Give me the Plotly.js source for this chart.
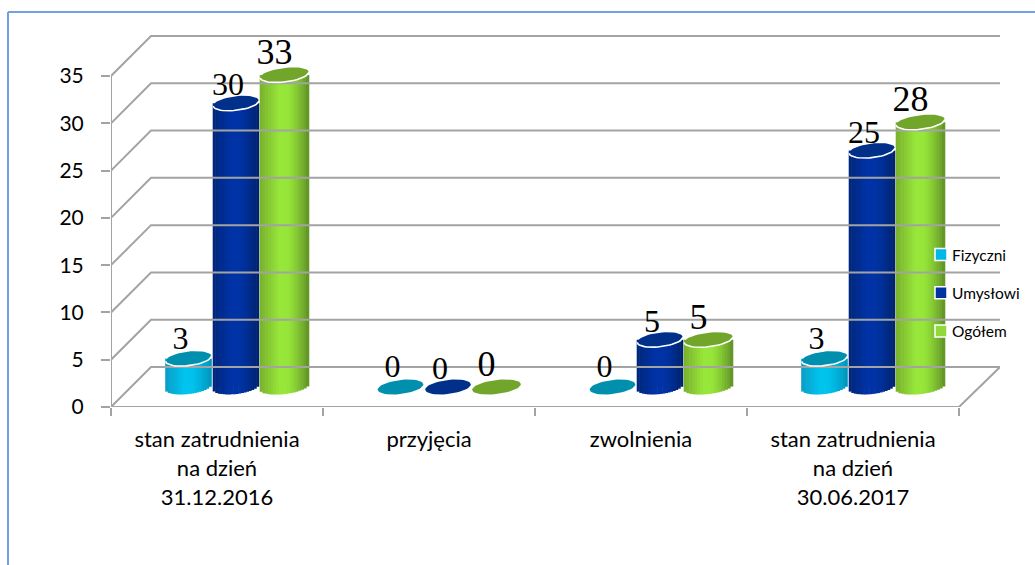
<!DOCTYPE html>
<html>
<head>
<meta charset="utf-8">
<script src="https://cdn.plot.ly/plotly-3.0.1.min.js"></script>
<style>html,body{margin:0;padding:0;background:#fff}#c{width:1035px;height:565px}</style>
</head>
<body>
<div id="c"></div>
<script>
const categoryLines = [
  ["stan zatrudnienia", "na dzień", "31.12.2016"],
  ["przyjęcia"],
  ["zwolnienia"],
  ["stan zatrudnienia", "na dzień", "30.06.2017"]
];
const seriesNames = ["Fizyczni", "Umysłowi", "Ogółem"];
const fizyczni = [3, 0, 0, 3];
const umyslowi = [30, 0, 5, 25];
const ogolem = [33, 0, 5, 28];
const valueTicks = [0, 5, 10, 15, 20, 25, 30, 35];

const bodyLeft = ["#0a9cc4", "#00267a", "#78b02c"];
const bodyMid = ["#00c3ee", "#0033a6", "#97e63a"];
const bodyRight = ["#0093b8", "#00226c", "#5f8f26"];
const topColor = ["#0090ae", "#00308a", "#72a62b"];
const swatchColor = ["#00b8e6", "#0033a0", "#92d83a"];
const labelSize = [32, 32, 36];
const labelRise = [18, 16, 20];
const labelShift = [-8, -8, -10];
const barOffset = [77.5, 125, 173.5];
const barHalf = [23, 23, 24.5];

const GREY = "#a3a3a3";
const ML = 111, MT = 30, PLOT_BOTTOM = 407, RIGHT = 1000;
const PX_X = 212, PX_Y = 9.457;
const plotW = RIGHT - ML, plotH = PLOT_BOTTOM - MT;
const xMax = plotW / PX_X, yMax = plotH / PX_Y;
const DEPTH = 40, LIFT = 20 / PX_Y;
const THETA = 7 * Math.PI / 180, MINOR = 7;
const allSeries = [fizyczni, umyslowi, ogolem];

function ellipsePoint(a, t) {
  return [a * Math.cos(t) * Math.cos(THETA) - MINOR * Math.sin(t) * Math.sin(THETA),
          a * Math.cos(t) * Math.sin(THETA) + MINOR * Math.sin(t) * Math.cos(THETA)];
}
function lowerAt(a, dx) {
  let best = 0, bestD = 1e9;
  for (let i = 0; i < 720; i++) {
    const p = ellipsePoint(a, Math.PI + i / 720 * Math.PI);
    const d = Math.abs(p[0] - dx);
    if (d < bestD) { bestD = d; best = p[1]; }
  }
  return best;
}
function hex(c) { return [1, 3, 5].map(i => parseInt(c.substr(i, 2), 16)); }
function mix(a, b, f) {
  const A = hex(a), B = hex(b);
  return "rgb(" + A.map((v, i) => Math.round(v + (B[i] - v) * f)).join(",") + ")";
}

const traces = [];
const STRIPS = 18;

// body base + legend
allSeries.forEach((vals, s) => {
  traces.push({
    type: "bar", name: seriesNames[s], legendgroup: seriesNames[s],
    x: vals.map((v, g) => g + barOffset[s] / PX_X),
    y: vals,
    base: vals.map(() => LIFT),
    width: barHalf[s] * 1.2 / PX_X,
    marker: { color: swatchColor[s], line: { width: 1.5, color: "#ffffff" } },
    hoverinfo: "skip"
  });
});

// cylinder shading strips
allSeries.forEach((vals, s) => {
  const xs = [], ys = [], bs = [], cs = [], ws = [];
  vals.forEach((v, g) => {
    if (v <= 0) return;
    for (let k = 0; k < STRIPS; k++) {
      const f = (k + 0.5) / STRIPS;
      const dx = (f * 2 - 1) * barHalf[s];
      const low = lowerAt(barHalf[s], dx);
      xs.push(g + (barOffset[s] + dx) / PX_X);
      bs.push(LIFT + low / PX_Y);
      ys.push(v - low / PX_Y);
      ws.push((2 * barHalf[s] / STRIPS + 0.6) / PX_X);
      cs.push(f < 0.55 ? mix(bodyLeft[s], bodyMid[s], Math.min(1, f / 0.4))
                       : mix(bodyMid[s], bodyRight[s], Math.pow((f - 0.55) / 0.45, 1.4)));
    }
  });
  traces.push({
    type: "bar", x: xs, y: ys, base: bs, width: ws, showlegend: false,
    legendgroup: seriesNames[s], marker: { color: cs, line: { width: 0 } }, hoverinfo: "skip"
  });
});

// floor / walls
const gx = [], gy = [];
valueTicks.forEach(v => {
  const bx = DEPTH / PX_X, by = v + DEPTH / PX_Y;
  gx.push(0, bx, xMax, null); gy.push(v, by, by, null);
});
gx.push(0, 0, null, 0, categoryLines.length, xMax, null);
gy.push(0, valueTicks[valueTicks.length - 1], null, 0, 0, DEPTH / PX_Y, null);
traces.unshift({
  type: "scatter", mode: "lines", x: gx, y: gy, showlegend: false, hoverinfo: "skip",
  line: { color: GREY, width: 2 }, cliponaxis: false, connectgaps: false
});

// cylinder tops, rims, labels
allSeries.forEach((vals, s) => {
  const ex = [], ey = [], rx = [], ry = [];
  vals.forEach((v, g) => {
    const cx = g + barOffset[s] / PX_X, cy = LIFT + v;
    for (let i = 0; i <= 48; i++) {
      const p = ellipsePoint(barHalf[s], i / 48 * 2 * Math.PI);
      ex.push(cx + p[0] / PX_X); ey.push(cy + p[1] / PX_Y);
    }
    ex.push(null); ey.push(null);
    if (v > 0) {
      for (let i = 0; i <= 24; i++) {
        const p = ellipsePoint(barHalf[s], Math.PI + i / 24 * Math.PI);
        rx.push(cx + p[0] / PX_X); ry.push(cy + p[1] / PX_Y);
      }
      rx.push(null); ry.push(null);
    }
  });
  traces.push({
    type: "scatter", mode: "lines", x: ex, y: ey, fill: "toself", fillcolor: topColor[s],
    line: { width: 0, color: topColor[s] }, showlegend: false, hoverinfo: "skip", cliponaxis: false
  });
  traces.push({
    type: "scatter", mode: "lines", x: rx, y: ry, line: { color: "#ffffff", width: 1.6 },
    showlegend: false, hoverinfo: "skip", cliponaxis: false
  });
});
allSeries.forEach((vals, s) => {
  traces.push({
    type: "scatter", mode: "text",
    x: vals.map((v, g) => g + (barOffset[s] + labelShift[s]) / PX_X),
    y: vals.map(v => LIFT + v + labelRise[s] / PX_Y),
    text: vals.map(String), textposition: "middle center",
    textfont: { family: "'Liberation Serif', serif", size: labelSize[s], color: "#000" },
    showlegend: false, hoverinfo: "skip", cliponaxis: false
  });
});

const layout = {
  width: 1035, height: 565,
  margin: { l: ML, r: 1035 - RIGHT, t: MT, b: 565 - PLOT_BOTTOM, pad: 0, autoexpand: false },
  paper_bgcolor: "#fff", plot_bgcolor: "rgba(0,0,0,0)",
  barmode: "overlay", showlegend: true,
  font: { family: "Lato, sans-serif", color: "#000" },
  xaxis: {
    range: [0, xMax], showgrid: false, zeroline: false, showline: false, fixedrange: true,
    tickmode: "array",
    tickvals: categoryLines.map((c, i) => i + 0.5),
    ticktext: categoryLines.map(lines => lines.map(l => '<span style="font-size:22px">' + l + "</span>").join("<br>")),
    tickfont: { size: 22.3, family: "Lato, sans-serif", color: "#000" },
    ticks: "", ticklabelstandoff: 17,
    minor: { tickmode: "array", tickvals: categoryLines.map((c, i) => i).concat(categoryLines.length),
             ticks: "outside", ticklen: 8, tickwidth: 2, tickcolor: GREY, showgrid: false }
  },
  yaxis: {
    range: [0, yMax], showgrid: false, zeroline: false, showline: false, fixedrange: true,
    tickmode: "array", tickvals: valueTicks, ticktext: valueTicks.map(String),
    ticks: "outside", ticklen: 9, tickwidth: 2, tickcolor: GREY,
    tickfont: { size: 21, family: "Lato, sans-serif", color: "#000" },
    ticklabelstandoff: 13
  },
  legend: {
    x: (912 - ML) / plotW, xanchor: "left",
    y: (PLOT_BOTTOM - 238) / plotH, yanchor: "top",
    bgcolor: "rgba(0,0,0,0)", borderwidth: 0,
    traceorder: "grouped", tracegroupgap: 15,
    font: { size: 15.5, family: "Lato, sans-serif", color: "#000" }
  },
  shapes: [
    { type: "line", xref: "paper", yref: "paper", x0: (8 - ML) / plotW, x1: (1035 - ML) / plotW,
      y0: (PLOT_BOTTOM - 12) / plotH, y1: (PLOT_BOTTOM - 12) / plotH, line: { color: "#6fa3e0", width: 2 } },
    { type: "line", xref: "paper", yref: "paper", x0: (8 - ML) / plotW, x1: (8 - ML) / plotW,
      y0: (PLOT_BOTTOM - 12) / plotH, y1: (PLOT_BOTTOM - 565) / plotH, line: { color: "#6fa3e0", width: 2 } }
  ]
};
Plotly.newPlot("c", traces, layout, { displayModeBar: false, staticPlot: true }).then(gd => {
  gd.querySelectorAll(".legend .legendsymbols").forEach(el => el.setAttribute("transform", "translate(9,0)"));
});
</script>
</body>
</html>
